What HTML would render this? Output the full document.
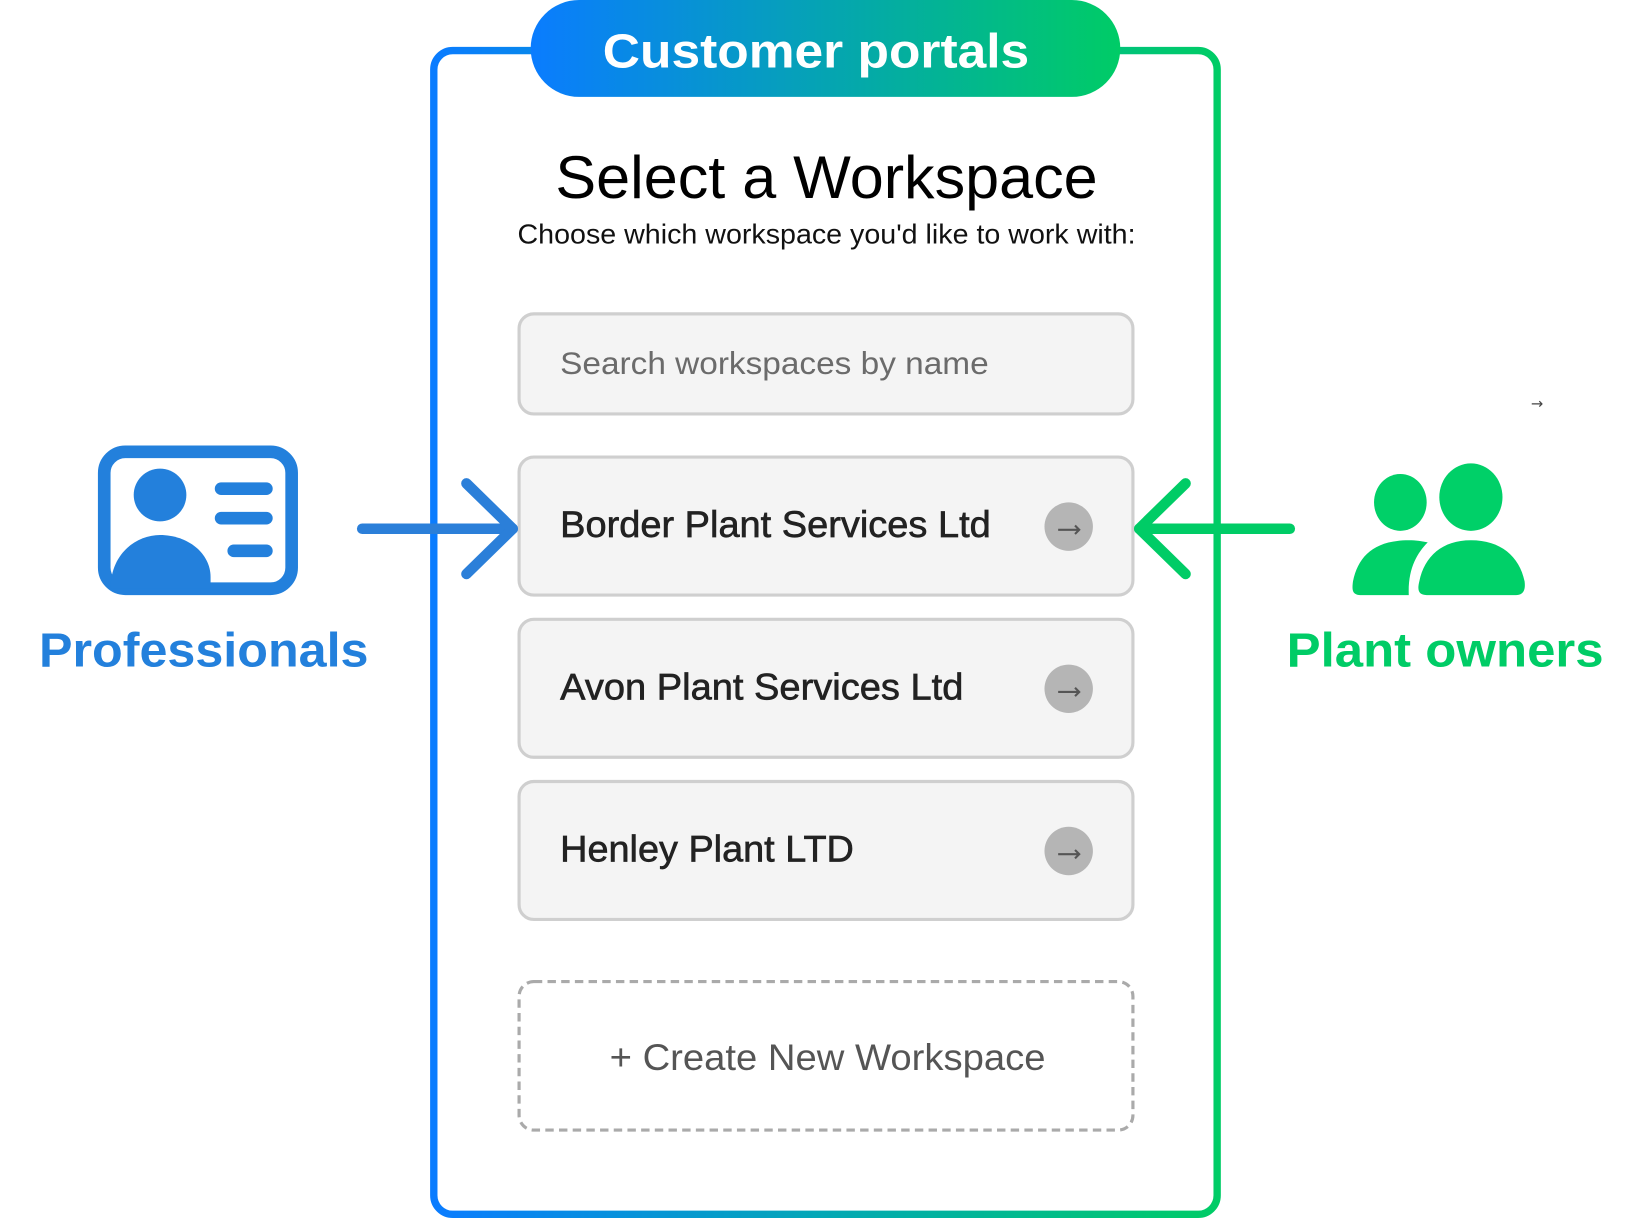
<!DOCTYPE html>
<html><head><meta charset="utf-8"><style>
html,body{margin:0;padding:0;background:#fff;width:1652px;height:1227px;overflow:hidden}
svg{display:block}
</style></head><body>
<svg width="1652" height="1227" viewBox="0 0 1569 1165" preserveAspectRatio="none" xmlns="http://www.w3.org/2000/svg">
<defs>
<linearGradient id="g" x1="0" y1="0" x2="1" y2="0">
<stop offset="0" stop-color="#0a7cff"/><stop offset="1" stop-color="#00cc66"/>
</linearGradient>
<linearGradient id="gf" gradientUnits="userSpaceOnUse" x1="412" y1="0" x2="1156" y2="0">
<stop offset="0" stop-color="#0a7cff"/><stop offset="0.5" stop-color="#03a8b5"/><stop offset="1" stop-color="#00cc66"/>
</linearGradient>
</defs>
<rect x="0" y="0" width="1573" height="1168" fill="#fff"/>
<rect x="412" y="48" width="744" height="1105" rx="18" fill="none" stroke="url(#gf)" stroke-width="7"/>
<rect x="504" y="0" width="560" height="92" rx="46" fill="url(#g)"/>
<text x="775" y="64" text-anchor="middle" font-family="Liberation Sans, sans-serif" font-weight="bold" font-size="46" fill="#fff" textLength="405" lengthAdjust="spacingAndGlyphs">Customer portals</text>
<text x="785" y="188" text-anchor="middle" font-family="Liberation Sans, sans-serif" font-size="57" fill="#000" textLength="515" lengthAdjust="spacingAndGlyphs">Select a Workspace</text>
<text x="785" y="231" text-anchor="middle" font-family="Liberation Sans, sans-serif" font-size="26" fill="#111" textLength="587" lengthAdjust="spacingAndGlyphs">Choose which workspace you'd like to work with:</text>
<rect x="493" y="298" width="583" height="95" rx="14" fill="#f4f4f4" stroke="#cfcfcf" stroke-width="3"/>
<text x="532" y="355" font-family="Liberation Sans, sans-serif" font-size="30" fill="#6b6b6b" textLength="407" lengthAdjust="spacingAndGlyphs">Search workspaces by name</text>
<g font-family="Liberation Sans, sans-serif" font-size="35" fill="#222" stroke="#222" stroke-width="0.6">
<rect x="493" y="434" width="583" height="131" rx="14" fill="#f4f4f4" stroke="#cfcfcf" stroke-width="3"/>
<text x="532" y="510" textLength="409" lengthAdjust="spacingAndGlyphs">Border Plant Services Ltd</text>
<rect x="493" y="588" width="583" height="131" rx="14" fill="#f4f4f4" stroke="#cfcfcf" stroke-width="3"/>
<text x="532" y="664" textLength="383" lengthAdjust="spacingAndGlyphs">Avon Plant Services Ltd</text>
<rect x="493" y="742" width="583" height="131" rx="14" fill="#f4f4f4" stroke="#cfcfcf" stroke-width="3"/>
<text x="532" y="818" textLength="279" lengthAdjust="spacingAndGlyphs">Henley Plant LTD</text>
</g>
<g fill="#b5b5b5">
<circle cx="1015" cy="500" r="23"/><circle cx="1015" cy="654" r="23"/><circle cx="1015" cy="808" r="23"/>
</g>
<g stroke="#555" stroke-width="2" fill="none">
<path d="M1005 503h20M1021 499l4 4-4 4"/>
<path d="M1005 657h20M1021 653l4 4-4 4"/>
<path d="M1005 811h20M1021 807l4 4-4 4"/>
</g>
<rect x="493" y="932" width="583" height="141" rx="14" fill="none" stroke="#aaa" stroke-width="3" stroke-dasharray="8 5"/>
<text x="786" y="1016" text-anchor="middle" font-family="Liberation Sans, sans-serif" font-size="35" fill="#555" textLength="414" lengthAdjust="spacingAndGlyphs">+ Create New Workspace</text>
<rect x="99" y="429" width="178" height="130" rx="20" fill="none" stroke="#2380dc" stroke-width="12"/>
<circle cx="152" cy="470" r="25" fill="#2380dc"/>
<path d="M105 559 C105 525 130 508 152 508 C178 508 200 525 200 548 L200 559 Z" fill="#2380dc"/>
<g stroke="#2380dc" stroke-width="12" stroke-linecap="round">
<line x1="210" y1="464" x2="253" y2="464"/><line x1="210" y1="492" x2="253" y2="492"/><line x1="222" y1="523" x2="253" y2="523"/>
</g>
<text x="37" y="633" font-family="Liberation Sans, sans-serif" font-weight="bold" font-size="46" fill="#2380dc" textLength="313" lengthAdjust="spacingAndGlyphs">Professionals</text>
<g stroke="#2b7fd9" stroke-width="10" stroke-linecap="round" stroke-linejoin="round" fill="none">
<line x1="344" y1="502" x2="487" y2="502"/><polyline points="443,459 487,502 443,545"/>
</g>
<g stroke="#00cc66" stroke-width="10" stroke-linecap="round" stroke-linejoin="round" fill="none">
<line x1="1225" y1="502" x2="1082" y2="502"/><polyline points="1126,459 1082,502 1126,545"/>
</g>
<g fill="#00d068">
<ellipse cx="1330" cy="477" rx="25" ry="27"/>
<ellipse cx="1397" cy="472" rx="30" ry="32"/>
<path d="M1293 565 C1284 565 1284 560 1285 552 C1290 528 1305 513 1338 513 C1345 513 1351 514 1356 515 C1346 525 1337 540 1338 565 Z"/>
<path d="M1355 565 C1347 565 1346 560 1348 552 C1353 528 1370 513 1397 513 C1425 513 1443 528 1448 552 C1449 560 1447 565 1440 565 Z"/>
</g>
<text x="1222" y="633" font-family="Liberation Sans, sans-serif" font-weight="bold" font-size="46" fill="#00cc66" textLength="301" lengthAdjust="spacingAndGlyphs">Plant owners</text>
<text x="1460" y="388" text-anchor="middle" font-family="DejaVu Sans, sans-serif" font-size="14" fill="#444">→</text>
</svg>
</body></html>
